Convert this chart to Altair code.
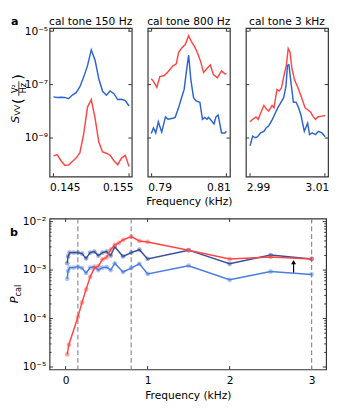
import altair as alt
import pandas as pd

FONT = "DejaVu Sans"
RED = "#ff4646"
BLUE = "#2d64d2"
NAVY = "#34509f"
LBLUE = "#4b7de1"
FRAME = "#333333"
GREY = "#8c8c8c"

# ---------------- panel a data (frequency in kHz, log10 of S_VV in V^2/Hz) ----------------
f150 = [0.1450, 0.1455, 0.1460, 0.1465, 0.1470, 0.1475, 0.1480, 0.1485, 0.1490, 0.1495, 0.1500,
        0.1505, 0.1510, 0.1515, 0.1520, 0.1525, 0.1530, 0.1535, 0.1540, 0.1545, 0.1550]
s150_blue = [-7.46, -7.48, -7.47, -7.48, -7.53, -7.39, -7.30, -7.08, -6.72, -6.30, -5.70,
             -6.08, -6.78, -7.25, -7.40, -7.24, -7.34, -7.56, -7.55, -7.60, -7.80]
s150_red = [-9.67, -9.62, -9.85, -10.02, -10.01, -9.88, -9.75, -9.55, -8.85, -7.85, -7.56,
            -8.25, -9.15, -9.52, -9.57, -9.65, -9.85, -10.00, -9.75, -9.65, -10.07]

f800_red = [0.7899, 0.7905, 0.7914, 0.7922, 0.7934, 0.7944, 0.7957, 0.7966, 0.7972, 0.7981, 0.7990, 0.7999,
            0.8006, 0.8015, 0.8024, 0.8031, 0.8039, 0.8048, 0.8057, 0.8065, 0.8076, 0.8087, 0.8096, 0.8100]
s800_red = [-6.78, -6.88, -7.10, -6.70, -6.66, -6.52, -6.30, -6.22, -5.80, -5.62, -5.50, -5.17,
            -5.38, -5.58, -5.86, -6.13, -6.55, -6.40, -6.26, -6.62, -6.74, -6.49, -6.60, -6.58]
f800_blue = [0.7899, 0.7905, 0.7911, 0.7918, 0.7927, 0.7937, 0.7944, 0.7957, 0.7963, 0.7972, 0.7979,
             0.7987, 0.7994, 0.7999, 0.8005, 0.8012, 0.8018, 0.8029, 0.8036, 0.8042, 0.8048, 0.8052,
             0.8058, 0.8067, 0.8072, 0.8078, 0.8087, 0.8096, 0.8100]
s800_blue = [-8.83, -8.62, -8.81, -8.39, -8.78, -8.21, -8.30, -8.26, -8.23, -7.87, -7.54,
             -7.18, -6.40, -5.90, -6.82, -7.48, -7.60, -7.66, -8.30, -8.23, -8.30, -8.23,
             -8.32, -8.47, -8.21, -8.14, -8.81, -8.81, -8.75]

f3k_red = [2.9900, 2.9907, 2.9916, 2.9922, 2.9928, 2.9937, 2.9943, 2.9950, 2.9959, 2.9964, 2.9972,
           2.9978, 2.9984, 2.9991, 2.9997, 3.0002, 3.0007, 3.0012, 3.0019, 3.0028, 3.0036, 3.0047,
           3.0054, 3.0062, 3.0069, 3.0075, 3.0081, 3.0092, 3.0101]
s3k_red = [-8.39, -8.30, -8.21, -8.30, -8.08, -7.78, -7.90, -7.99, -7.78, -7.87, -7.18,
           -7.24, -7.12, -6.64, -6.28, -5.65, -5.80, -6.40, -6.82, -7.12, -7.42, -7.87,
           -7.94, -8.03, -8.21, -8.30, -8.21, -8.18, -8.16]
f3k_blue = [2.9900, 2.9907, 2.9914, 2.9920, 2.9928, 2.9937, 2.9943, 2.9950, 2.9959, 2.9966, 2.9974,
            2.9983, 2.9990, 2.9996, 3.0000, 3.0004, 3.0010, 3.0016, 3.0023, 3.0029, 3.0036, 3.0045,
            3.0054, 3.0059, 3.0066, 3.0075, 3.0083, 3.0092, 3.0101]
s3k_blue = [-9.29, -8.93, -8.99, -8.95, -8.81, -8.75, -8.62, -8.54, -8.32, -8.11, -7.87,
            -7.66, -7.48, -7.06, -6.28, -6.26, -7.00, -7.66, -7.66, -7.84, -8.14, -8.75,
            -8.44, -8.87, -8.81, -8.87, -8.75, -8.81, -8.95]

# ---------------- panel b data (frequency in kHz, log10 of P_cal) ----------------
fb_blue = [0.02, 0.03, 0.05, 0.1, 0.15, 0.2, 0.25, 0.3, 0.35, 0.4, 0.45, 0.5, 0.55, 0.6,
           0.7, 0.8, 0.9, 1.0, 1.5, 2.0, 2.5, 3.0]
pb_navy = [-2.86, -2.72, -2.64, -2.64, -2.64, -2.66, -2.76, -2.64, -2.62, -2.70, -2.64, -2.62, -2.70, -2.52,
           -2.72, -2.64, -2.58, -2.77, -2.59, -2.87, -2.69, -2.77]
pb_light = [-3.18, -3.02, -2.95, -2.95, -2.93, -2.96, -3.06, -2.95, -2.93, -3.00, -2.95, -2.94, -3.00, -2.86,
            -3.04, -2.96, -2.87, -3.08, -2.91, -3.20, -3.03, -3.09]
fb_red = [0.02, 0.04, 0.15, 0.2, 0.25, 0.3, 0.35, 0.4, 0.45, 0.5, 0.55, 0.6, 0.65, 0.7,
          0.8, 0.9, 1.0, 1.5, 2.0, 2.5, 3.0]
pb_red = [-4.74, -4.54, -3.97, -3.67, -3.40, -3.14, -2.96, -2.92, -2.78, -2.74, -2.58, -2.48, -2.44, -2.38,
          -2.31, -2.40, -2.42, -2.59, -2.77, -2.73, -2.77]
tone_lines = [0.15, 0.8, 3.0]
arrow_f = [2.78]
arrow_lo = [8.9e-4]
arrow_hi = [1.42e-3]
arrow_head = [1.46e-3]

panel_titles = ["cal tone 150 Hz", "cal tone 800 Hz", "cal tone 3 kHz"]

# tick positions
a_yticks = [1e-9, 1e-7, 1e-5]
b_yticks = [1e-5, 1e-4, 1e-3, 1e-2]
b_yminor = [m * 10.0 ** e for e in (-5, -4, -3) for m in range(2, 10)]
b_xticks = [0, 1, 2, 3]

SUP = {"-": "\u207b", "0": "\u2070", "1": "\u00b9", "2": "\u00b2", "3": "\u00b3", "4": "\u2074",
       "5": "\u2075", "6": "\u2076", "7": "\u2077", "8": "\u2078", "9": "\u2079"}


def pow_label_expr(exps):
    parts = []
    for e in exps:
        s = "".join(SUP[c] for c in str(e))
        parts.append(f"abs(log(datum.value)/LN10 - ({e})) < 0.01 ? '10{s}'")
    return " : ".join(parts) + " : ''"


TL = 3.5
TLm = 2.0


def tick_layers(W, H, xs, xax, xvals, ys, yax, yvals, length, yfield, xfield):
    layers = []
    if xvals:
        d = pd.DataFrame({xfield: xvals})
        for y0, y1 in ((0, length), (H - length, H)):
            layers.append(alt.Chart(d).mark_rule(color=FRAME, strokeWidth=1).encode(
                x=alt.X(f"{xfield}:Q", scale=xs, axis=xax), y=alt.value(y0), y2=alt.value(y1)))
    if yvals:
        d = pd.DataFrame({yfield: yvals})
        for x0, x1 in ((0, length), (W - length, W)):
            layers.append(alt.Chart(d).mark_rule(color=FRAME, strokeWidth=1).encode(
                y=alt.Y(f"{yfield}:Q", scale=ys, axis=yax), x=alt.value(x0), x2=alt.value(x1)))
    return layers


def txt(s, x, y, size=11, **kw):
    return alt.Chart(pd.DataFrame({"t": [s]})).mark_text(
        font=FONT, fontSize=size, color="black", **kw).encode(
        text="t:N", x=alt.value(x), y=alt.value(y))


TW, TH = 85, 153.5
YDOM_A = [3.6e-11, 1.3e-5]


def panel_a(fr, vr, fb, vb, xdom, xvals, xfmt, title, first, xtitle):
    df = pd.DataFrame({
        "f": fr + fb,
        "S": [10.0 ** v for v in vr + vb],
        "tone": ["r"] * len(fr) + ["b"] * len(fb),
    })
    xs = alt.Scale(domain=xdom, nice=False, zero=False)
    ys = alt.Scale(type="log", domain=YDOM_A, nice=False)
    xkw = dict(values=xvals, format=xfmt, labelFlush=8, labelFlushOffset=4, ticks=False, domain=False,
               grid=False, labelPadding=5, titlePadding=4)
    xkw["title"] = xtitle if xtitle else None
    xax = alt.Axis(**xkw)
    if first:
        yax = alt.Axis(values=a_yticks, labelExpr=pow_label_expr([-9, -7, -5]), ticks=False,
                       domain=False, grid=False, labelPadding=2, title=None)
    else:
        yax = None
    lines = alt.Chart(df).mark_line(strokeWidth=1.5, clip=True).encode(
        x=alt.X("f:Q", scale=xs, axis=xax),
        y=alt.Y("S:Q", scale=ys, axis=yax),
        color=alt.Color("tone:N", scale=alt.Scale(domain=["r", "b"], range=[RED, BLUE]), legend=None),
    )
    layers = tick_layers(TW, TH, xs, xax, xvals, ys, yax, a_yticks, TL, "S", "f") + [lines]
    layers.append(txt(title, TW / 2, -6.5, size=11, align="center"))
    if first:
        layers.append(alt.Chart(pd.DataFrame({"t": [0]})).mark_rect(opacity=0).encode(
            x=alt.value(-40.3), x2=alt.value(-40), y=alt.value(10), y2=alt.value(11)))
        layers.append(txt("a", -40, -6.5, size=11.5, fontWeight="bold", align="left"))
        layers.append(txt("S", -34.8, 94.5, size=11.5, fontStyle="italic", angle=270, align="center", baseline="middle"))
        layers.append(txt("VV", -32.2, 85, size=8, angle=270, align="center", baseline="middle"))
        layers.append(txt("(", -32.3, 75.5, size=15, angle=270, align="center", baseline="middle"))
        layers.append(txt("V\u00b2", -35.3, 62.5, size=8.5, angle=270, align="center", baseline="middle"))
        layers.append(txt("Hz", -27.8, 62, size=8.5, angle=270, align="center", baseline="middle"))
        layers.append(alt.Chart(pd.DataFrame({"t": [0]})).mark_rule(color="black", strokeWidth=0.8).encode(
            x=alt.value(-31.8), y=alt.value(55), y2=alt.value(70)))
        layers.append(txt(")", -32.3, 50.5, size=15, angle=270, align="center", baseline="middle"))
    return alt.layer(*layers).properties(width=TW, height=TH)


p1 = panel_a(f150, s150_red, f150, s150_blue, [0.14449, 0.15536], [0.145, 0.155], ".3f",
             panel_titles[0], True, None)
p2 = panel_a(f800_red, s800_red, f800_blue, s800_blue, [0.78896, 0.81094], [0.79, 0.81], ".2f",
             panel_titles[1], False, "Frequency (kHz)")
p3 = panel_a(f3k_red, s3k_red, f3k_blue, s3k_blue, [2.98889, 3.01085], [2.99, 3.01], ".2f",
             panel_titles[2], False, None)

# ---------------- panel b ----------------
BW, BH = 286, 156
bxs = alt.Scale(domain=[-0.195, 3.177], nice=False, zero=False)
bys = alt.Scale(type="log", domain=[8.9e-6, 1.15e-2], nice=False)
bxax = alt.Axis(values=b_xticks, format="d", ticks=False, domain=False, grid=False, labelPadding=6,
                title="Frequency (kHz)", titlePadding=4)
byax = alt.Axis(values=b_yticks, labelExpr=pow_label_expr([-5, -4, -3, -2]), ticks=False, domain=False,
                grid=False, labelPadding=4, title=None)

dash = alt.Chart(pd.DataFrame({"f": tone_lines})).mark_rule(
    color=GREY, strokeWidth=1.2, strokeDash=[5, 3]).encode(x=alt.X("f:Q", scale=bxs, axis=bxax))


def series(freqs, logs, color):
    d = pd.DataFrame({"f": freqs, "P": [10.0 ** v for v in logs]})
    return alt.Chart(d).mark_line(
        color=color, strokeWidth=1.5,
        point=alt.OverlayMarkDef(filled=True, size=24, opacity=0.45, color=color),
    ).encode(x=alt.X("f:Q", scale=bxs, axis=bxax), y=alt.Y("P:Q", scale=bys, axis=byax))


adf = pd.DataFrame({"f": arrow_f, "lo": arrow_lo, "hi": arrow_hi, "head": arrow_head})
arrow_shaft = alt.Chart(adf).mark_rule(color="black", strokeWidth=1.2).encode(
    x=alt.X("f:Q", scale=bxs, axis=bxax), y=alt.Y("lo:Q", scale=bys, axis=byax), y2="hi:Q")
arrow_tip = alt.Chart(adf).mark_point(shape="triangle-up", filled=True, color="black", size=26, opacity=1).encode(
    x=alt.X("f:Q", scale=bxs, axis=bxax), y=alt.Y("head:Q", scale=bys, axis=byax))

b_layers = tick_layers(BW, BH, bxs, bxax, b_xticks, bys, byax, b_yticks, TL, "P", "f")
b_layers += tick_layers(BW, BH, bxs, bxax, [], bys, byax, b_yminor, TLm, "P", "f")
b_layers += [dash, series(fb_blue, pb_light, LBLUE), series(fb_blue, pb_navy, NAVY),
             series(fb_red, pb_red, RED), arrow_shaft, arrow_tip]
b_layers.append(alt.Chart(pd.DataFrame({"t": [0]})).mark_rect(opacity=0).encode(
    x=alt.value(-41), x2=alt.value(-40.7), y=alt.value(-4), y2=alt.value(-3.5)))
b_layers.append(txt("b", -41, 15, size=11.5, fontWeight="bold", align="left"))
b_layers.append(txt("P", -35.5, 84, size=11.5, fontStyle="italic", angle=270, align="center", baseline="middle"))
b_layers.append(txt("cal", -32.5, 74.5, size=8.5, angle=270, align="center", baseline="middle"))

pb = alt.layer(*b_layers).properties(width=BW, height=BH)

top = alt.hconcat(p1, p2, p3, spacing=16.5, bounds="flush")
chart = alt.vconcat(top, pb, spacing=6).properties(
    padding={"left": 0, "top": 0, "right": 0, "bottom": 0}
).configure(font=FONT).configure_view(
    stroke=FRAME, strokeWidth=1.2
).configure_axis(
    labelFont=FONT, labelFontSize=11, labelColor="black", titleFont=FONT, titleFontSize=11,
    titleColor="black", titleFontWeight="normal"
)

chart.save("out.html", embed_options={"renderer": "svg", "actions": False})
